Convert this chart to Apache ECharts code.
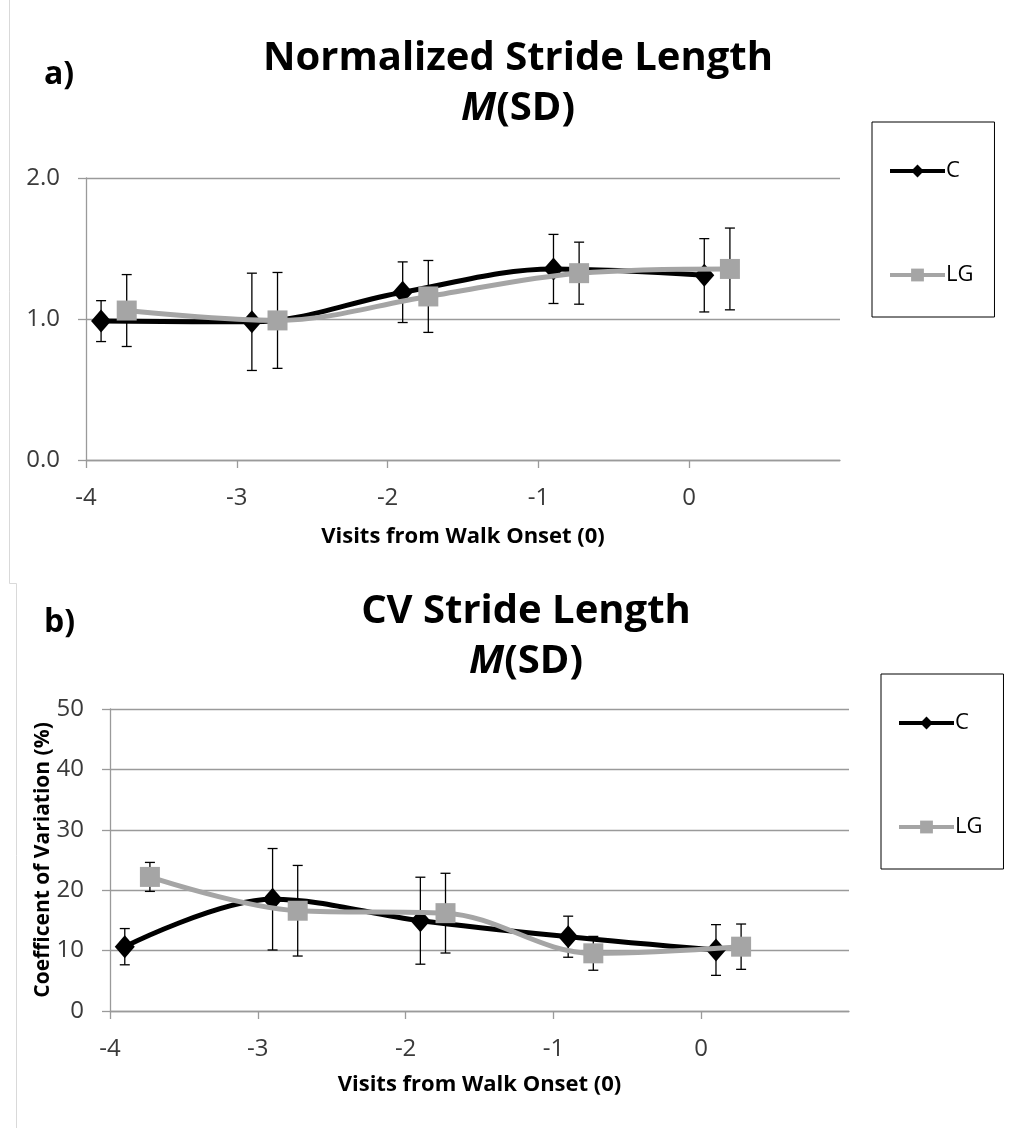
<!DOCTYPE html>
<html><head><meta charset="utf-8">
<script src="https://cdn.jsdelivr.net/npm/echarts@6/dist/echarts.min.js"></script>
<style>html,body{margin:0;padding:0;background:#fff}#c{width:1010px;height:1128px}</style>
</head><body><div id="c"></div>
<script>
// ---- data ----
const xTicks = [-4, -3, -2, -1, 0];
const xC = [-3.9, -2.9, -1.9, -0.9, 0.1];
const xLG = [-3.73, -2.73, -1.73, -0.73, 0.27];
const strideC = [0.985, 0.98, 1.19, 1.355, 1.31];
const strideCsd = [0.145, 0.345, 0.215, 0.245, 0.26];
const strideLG = [1.06, 0.99, 1.16, 1.325, 1.355];
const strideLGsd = [0.255, 0.34, 0.255, 0.22, 0.29];
const cvC = [10.65, 18.5, 14.95, 12.3, 10.1];
const cvCsd = [3.0, 8.4, 7.2, 3.4, 4.2];
const cvLG = [22.2, 16.6, 16.2, 9.55, 10.65];
const cvLGsd = [2.4, 7.5, 6.6, 2.8, 3.75];

const FONT = '"Open Sans", "Noto Sans", sans-serif';
const BLACK = '#000000', GRAY = '#A5A5A5', AXIS = '#9A9A9A';

function pts(xs, ys) { return xs.map((x, i) => [x, ys[i]]); }
function errs(xs, ys, sd) { return xs.map((x, i) => [x, ys[i] - sd[i], ys[i] + sd[i]]); }

function errSeries(name, gi, data) {
  return {
    type: 'custom', name: name + ' err', xAxisIndex: gi, yAxisIndex: gi, z: 1,
    silent: true, legendHoverLink: false,
    renderItem: function (params, api) {
      const x = api.value(0);
      const lo = api.coord([x, api.value(1)]);
      const hi = api.coord([x, api.value(2)]);
      const hw = 5;
      const st = { stroke: '#000', lineWidth: 1.3 };
      return { type: 'group', children: [
        { type: 'line', shape: { x1: lo[0], y1: lo[1], x2: hi[0], y2: hi[1] }, style: st },
        { type: 'line', shape: { x1: lo[0] - hw, y1: lo[1], x2: lo[0] + hw, y2: lo[1] }, style: st },
        { type: 'line', shape: { x1: hi[0] - hw, y1: hi[1], x2: hi[0] + hw, y2: hi[1] }, style: st }
      ]};
    },
    data: data
  };
}

function lineSeries(name, gi, data, color, symbol, size, z) {
  return {
    type: 'line', name: name, xAxisIndex: gi, yAxisIndex: gi, z: z,
    data: data, smooth: 0.35, symbol: symbol, symbolSize: size, showAllSymbol: true,
    lineStyle: { color: color, width: 5 }, itemStyle: { color: color, borderWidth: 0 },
    emphasis: { disabled: true }, animation: false
  };
}

function xAxis(gi) {
  return {
    type: 'value', gridIndex: gi, min: -4, max: 1, interval: 1,
    axisLine: { show: true, onZero: false, lineStyle: { color: AXIS, width: 1.3 } },
    axisTick: { show: true, length: 8, inside: false, lineStyle: { color: AXIS, width: 1.3 }, customValues: xTicks },
    axisLabel: { show: true, color: '#3A3A3A', fontFamily: FONT, fontSize: 24, margin: 26, customValues: xTicks },
    splitLine: { show: false },
    name: 'Visits from Walk Onset (0)', nameLocation: 'middle', nameGap: gi === 0 ? 66 : 63,
    nameTextStyle: { color: '#000', fontFamily: FONT, fontWeight: 'bold', fontSize: 22 }
  };
}

function yAxis(gi, max, interval, fmt, name) {
  const a = {
    type: 'value', gridIndex: gi, min: 0, max: max, interval: interval,
    axisLine: { show: true, onZero: false, lineStyle: { color: AXIS, width: 1.3 } },
    axisTick: { show: true, length: 8, lineStyle: { color: AXIS, width: 1.3 } },
    axisLabel: { show: true, color: '#3A3A3A', fontFamily: FONT, fontSize: 24, margin: 26, formatter: fmt },
    splitLine: { show: true, lineStyle: { color: AXIS, width: 1.3 } }
  };
  if (name) {
    a.name = name; a.nameLocation = 'middle'; a.nameGap = 56; a.nameRotate = 90; a.nameMoveOverlap = false;
    a.nameTextStyle = { color: '#000', fontFamily: FONT, fontWeight: 'bold', fontSize: 21 };
  }
  return a;
}

const titleRich = {
  i: { fontStyle: 'italic', fontWeight: 'bold', fontSize: 40, fontFamily: FONT, color: '#000' },
  n: { fontWeight: 'bold', fontSize: 40, fontFamily: FONT, color: '#000' }
};

function legend(left, top) {
  return { data: ['C', 'LG'], orient: 'vertical', left: left, top: top, itemWidth: 55, itemHeight: 16, itemGap: 82,
    padding: [38, 21, 31, 16], borderColor: '#000', borderWidth: 1, selectedMode: false,
    lineStyle: { width: 4 },
    textStyle: { fontFamily: FONT, fontSize: 22, color: '#000', padding: [0, 0, 0, -4] } };
}

const chart = echarts.init(document.getElementById('c'), null, { renderer: 'canvas' });
chart.setOption({
  animation: false,
  backgroundColor: '#fff',
  title: [
    { text: '{n|Normalized Stride Length}\n{i|M}{n|(SD)}', left: 513, top: 29, textAlign: 'center',
      textStyle: { rich: titleRich, lineHeight: 50 } },
    { text: 'a)', left: 39, top: 54, textStyle: { fontFamily: FONT, fontWeight: 'bold', fontSize: 32, color: '#000' } },
    { text: '{n|CV Stride Length}\n{i|M}{n|(SD)}', left: 521, top: 582, textAlign: 'center',
      textStyle: { rich: titleRich, lineHeight: 50 } },
    { text: 'b)', left: 39, top: 602, textStyle: { fontFamily: FONT, fontWeight: 'bold', fontSize: 32, color: '#000' } }
  ],
  legend: [legend(872, 122), legend(881, 674)],
  grid: [
    { left: 86, top: 178, width: 754, height: 282 },
    { left: 110, top: 709, width: 739, height: 302 }
  ],
  xAxis: [xAxis(0), xAxis(1)],
  yAxis: [
    yAxis(0, 2, 1, v => v.toFixed(1)),
    yAxis(1, 50, 10, v => String(v), 'Coefficent of Variation (%)')
  ],
  series: [
    errSeries('C', 0, errs(xC, strideC, strideCsd)),
    errSeries('LG', 0, errs(xLG, strideLG, strideLGsd)),
    lineSeries('C', 0, pts(xC, strideC), BLACK, 'diamond', [20, 23], 3),
    lineSeries('LG', 0, pts(xLG, strideLG), GRAY, 'rect', 20, 4),
    errSeries('C', 1, errs(xC, cvC, cvCsd)),
    errSeries('LG', 1, errs(xLG, cvLG, cvLGsd)),
    lineSeries('C', 1, pts(xC, cvC), BLACK, 'diamond', [20, 23], 3),
    lineSeries('LG', 1, pts(xLG, cvLG), GRAY, 'rect', 20, 4)
  ],
  graphic: [
    { type: 'polyline', silent: true, shape: { points: [[9.5, 0], [9.5, 583.5], [16.5, 583.5], [16.5, 1128]] },
      style: { stroke: '#D9D9D9', lineWidth: 1, fill: null } }
  ]
});
</script></body></html>
